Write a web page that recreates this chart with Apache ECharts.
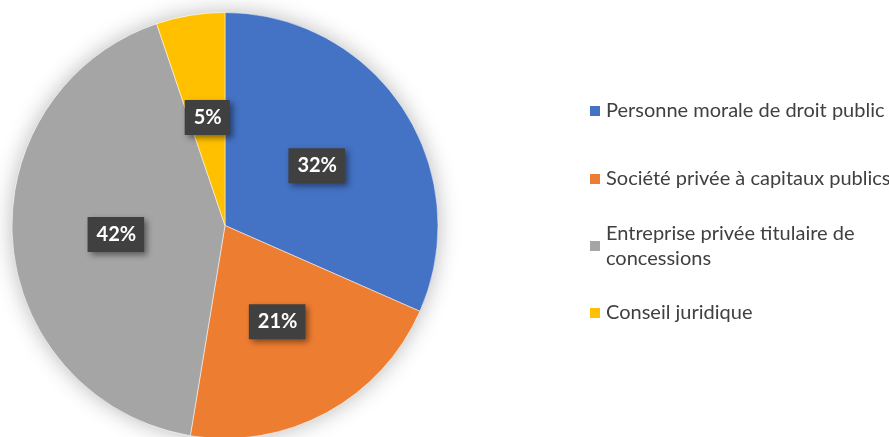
<!DOCTYPE html>
<html>
<head>
<meta charset="utf-8">
<script src="https://cdn.jsdelivr.net/npm/echarts@6/dist/echarts.min.js"></script>
<style>
html,body{margin:0;padding:0;background:#fff;}
#chart{width:889px;height:437px;}
</style>
</head>
<body>
<div id="chart"></div>
<script>
var categories = ['Personne morale de droit public', 'Société privée à capitaux publics', 'Entreprise privée titulaire de concessions', 'Conseil juridique'];
var values = [31.6, 21.0, 42.2, 5.2];
var colors = ['#4472C4', '#ED7D31', '#A5A5A5', '#FFC000'];

var chart = echarts.init(document.getElementById('chart'), null, {renderer: 'canvas'});

var pieData = categories.map(function (c, i) {
  return {name: c, value: values[i], itemStyle: {color: colors[i]}};
});

var legendBase = {
  left: 588,
  orient: 'vertical',
  padding: 0,
  itemWidth: 12,
  itemHeight: 12,
  icon: 'rect',
  selectedMode: false,
  textStyle: {fontFamily: 'Lato', fontSize: 20, color: '#404040', lineHeight: 25}
};
var legendTops = [98.5, 166.5, 208.5, 300.5];
var legends = categories.map(function (c, i) {
  var l = JSON.parse(JSON.stringify(legendBase));
  l.top = legendTops[i];
  if (i === 2) {
    l.data = [{name: c, textStyle: {width: 275, overflow: 'break', padding: [25, 0, 0, 0]}}];
  } else {
    l.data = [c];
  }
  return l;
});

chart.setOption({
  backgroundColor: '#ffffff',
  animation: false,
  legend: legends,
  series: [
    {
      name: 'shadow',
      type: 'pie',
      center: [225, 225.5],
      radius: 213,
      silent: true,
      z: 1,
      label: {show: false},
      labelLine: {show: false},
      itemStyle: {color: '#ffffff', shadowBlur: 22, shadowColor: 'rgba(0,0,0,0.28)'},
      data: [{name: '_bg', value: 1}]
    },
    {
      name: 'Répartition',
      type: 'pie',
      center: [225, 225.5],
      radius: 213,
      startAngle: 90,
      clockwise: true,
      z: 2,
      itemStyle: {borderColor: '#ffffff', borderWidth: 0.5},
      label: {
        show: true,
        position: 'inside',
        formatter: function (p) { return Math.round(p.percent) + '%'; },
        color: '#ffffff',
        fontFamily: 'Lato',
        fontWeight: 'bold',
        fontSize: 20,
        backgroundColor: '#404040',
        padding: [8, 8, 7, 9],
        shadowBlur: 6,
        shadowOffsetX: 3,
        shadowOffsetY: 3,
        shadowColor: 'rgba(0,0,0,0.45)'
      },
      labelLine: {show: false},
      emphasis: {disabled: true},
      data: pieData
    }
  ]
});
</script>
</body>
</html>
